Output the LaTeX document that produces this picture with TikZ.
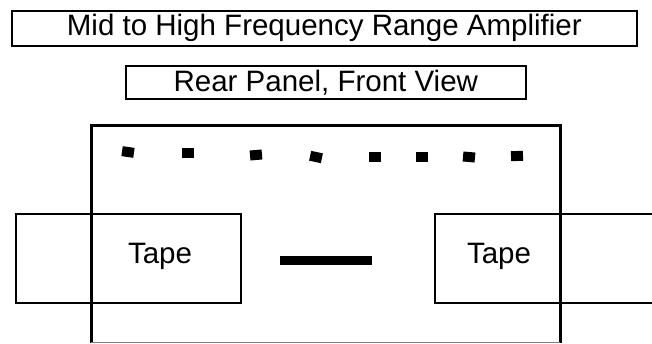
\documentclass[tikz,border=0pt]{standalone}
\usepackage{fontspec}
\setmainfont{Liberation Sans}
\begin{document}
\begin{tikzpicture}[x=1pt,y=-1pt,
  thinbox/.style={draw=black,line width=1.6pt,inner sep=0pt,anchor=north west},
  pin/.style={fill=black,minimum width=12pt,minimum height=10pt,inner sep=0pt},
  lbl/.style={font=\fontsize{29.5}{32}\selectfont}]
\useasboundingbox (0,0) rectangle (652,343);
% title boxes
\node[thinbox,minimum width=625pt,minimum height=35pt] (title) at (11,10) {};
\node[lbl] (titletext) at (title.center) {Mid to High Frequency Range Amplifier};
\node[thinbox,minimum width=400pt,minimum height=33pt] (sub) at (125,65) {};
\node[lbl] (subtext) at (sub.center) {Rear Panel, Front View};
% panel
\draw[line width=3pt] (91,343) -- (91,125) -- (560,125) -- (560,343);
\draw[gray,line width=0.8pt] (91,342.5) -- (560,342.5);
% pins
\node[pin,rotate=-8] (p1) at (128,152) {};
\node[pin] (p2) at (188,153) {};
\node[pin,rotate=5] (p3) at (256,155) {};
\node[pin,rotate=-12] (p4) at (316,157) {};
\node[pin] (p5) at (375,157) {};
\node[pin] (p6) at (422,157) {};
\node[pin,rotate=-5] (p7) at (469,157) {};
\node[pin,rotate=2] (p8) at (517,156) {};
% tape boxes
\node[thinbox,minimum width=225pt,minimum height=89pt] (tl) at (15,213) {};
\node[lbl] (tltext) at (160,256) {Tape};
\node[thinbox,minimum width=230pt,minimum height=89pt] (tr) at (434,213) {};
\node[lbl] (trtext) at (499,256) {Tape};
% bar
\node[fill=black,minimum width=92pt,minimum height=9pt,inner sep=0pt] (bar) at (326,260) {};
\draw[line width=3pt] (91,213) -- (91,302);
\draw[line width=3pt] (560,213) -- (560,302);
\end{tikzpicture}
\end{document}
